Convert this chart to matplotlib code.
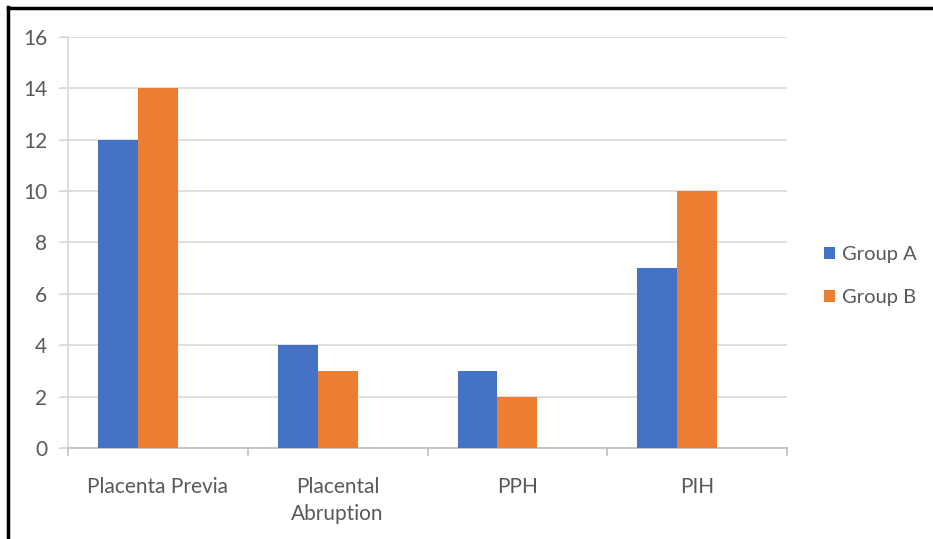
import matplotlib
matplotlib.use("Agg")
import matplotlib.pyplot as plt
from matplotlib.lines import Line2D
from matplotlib.patches import Patch
import numpy as np

# Complication counts per group
categories = ["Placenta Previa", "Placental\nAbruption", "PPH", "PIH"]
group_a = [12, 4, 3, 7]
group_b = [14, 3, 2, 10]
series_names = ["Group A", "Group B"]
y_ticks = [0, 2, 4, 6, 8, 10, 12, 14, 16]

blue = "#4472C4"
orange = "#ED7D31"
grid_col = "#d9d9d9"
text_col = "#595959"

plt.rcParams["font.family"] = ["Lato", "DejaVu Sans"]

fig = plt.figure(figsize=(9.33, 5.39), dpi=100)
ax = fig.add_axes([0.0729, 0.1688, 0.7706, 0.7626])

x = np.arange(len(categories))
w = 0.222
# clusters sit a bit left of the category centre
ax.bar(x - w, group_a, width=w, color=blue, zorder=3)
ax.bar(x, group_b, width=w, color=orange, zorder=3)

ax.set_xlim(-0.5, len(categories) - 0.5)
ax.set_ylim(0, 16)
ax.set_yticks(y_ticks)
ax.yaxis.grid(True, color=grid_col, linewidth=1.2, zorder=0)
ax.tick_params(axis="y", length=7, color=grid_col, labelsize=15,
               labelcolor=text_col, pad=8)

# category labels centred, tick marks on category boundaries
ax.set_xticks(x)
ax.set_xticklabels(categories, fontsize=15, color=text_col, linespacing=1.45)
ax.tick_params(axis="x", length=0, pad=21)
for b in np.arange(-0.5, len(categories), 1.0):
    ax.plot([b, b], [0, -0.28], color="#bfbfbf", linewidth=1.2,
            clip_on=False, zorder=2)

for side in ["top", "right"]:
    ax.spines[side].set_visible(False)
ax.spines["left"].set_color(grid_col)
ax.spines["left"].set_linewidth(1.2)
ax.spines["bottom"].set_color("#bfbfbf")
ax.spines["bottom"].set_linewidth(1.2)
# extend gridlines slightly to the left like tick marks
for t in y_ticks:
    ax.plot([-0.5 - 0.04, -0.5], [t, t], color=grid_col, linewidth=1.2,
            clip_on=False)

handles = [Patch(facecolor=blue), Patch(facecolor=orange)]
fig.legend(handles, series_names, loc="center left",
           bbox_to_anchor=(0.864, 0.488), frameon=False, fontsize=14.5,
           handlelength=0.55, handleheight=0.55, handletextpad=0.35,
           labelspacing=1.3, labelcolor=text_col)

# outer frame (left and top edges)
fig.add_artist(Line2D([0.0085, 0.0085], [0, 0.987], color="black",
                      linewidth=2.5, transform=fig.transFigure))
fig.add_artist(Line2D([0.0085, 1.0], [0.985, 0.985], color="black",
                      linewidth=2.5, transform=fig.transFigure))

fig.savefig("out.png", dpi=100)
